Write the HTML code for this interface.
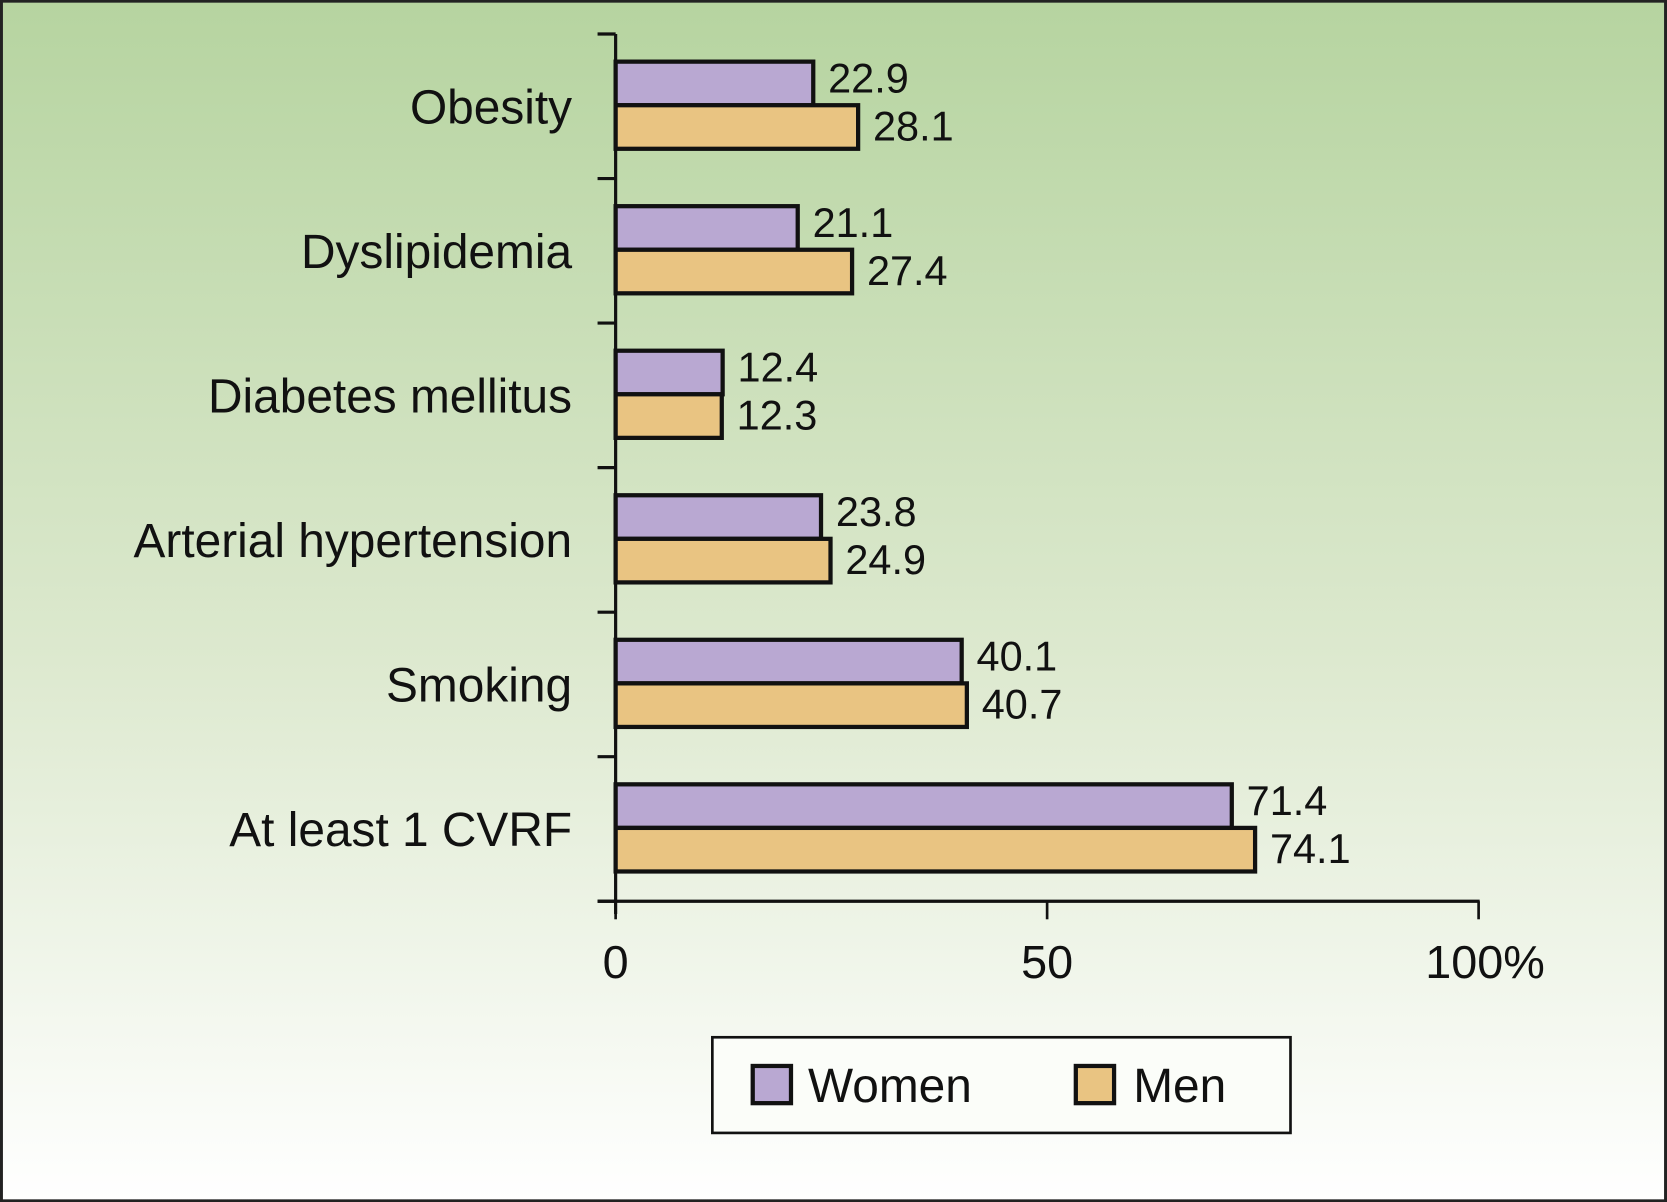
<!DOCTYPE html>
<html><head><meta charset="utf-8"><style>
html,body{margin:0;padding:0;background:#fff}
svg{display:block}
text{font-family:"Liberation Sans",Arial,sans-serif;fill:#111}
</style></head><body>
<svg id="chart" width="1667" height="1202" viewBox="0 0 1568 1131" xmlns="http://www.w3.org/2000/svg">
<defs><linearGradient id="bg" x1="0" y1="0" x2="0" y2="1">
<stop offset="0" stop-color="#b6d4a0"/><stop offset="0.55" stop-color="#dde9cf"/><stop offset="1" stop-color="#ffffff"/></linearGradient></defs>
<rect x="1" y="1" width="1566" height="1129" fill="url(#bg)" stroke="#222" stroke-width="3"/>
<g id="plot"></g>
<g>
<rect x="670" y="976" width="544" height="90" fill="#fbfdf9" stroke="#111" stroke-width="2.5"/>
<rect x="708" y="1003" width="36" height="35" fill="#b9a8d2" stroke="#111" stroke-width="4"/>
<text x="760" y="1037" font-size="45">Women</text>
<rect x="1012" y="1003" width="36" height="35" fill="#e9c482" stroke="#111" stroke-width="4"/>
<text x="1066" y="1037" font-size="45">Men</text>
</g>
</svg>
<script>
const categories = ["Obesity","Dyslipidemia","Diabetes mellitus","Arterial hypertension","Smoking","At least 1 CVRF"];
const women = [22.9,21.1,12.4,23.8,40.1,71.4];
const men = [28.1,27.4,12.3,24.9,40.7,74.1];
const xTicks = [0,50,100];
const xTickLabels = ["0","50","100%"];

const NS="http://www.w3.org/2000/svg";
const g=document.getElementById('plot');
const X0=579, PXU=8.12, YTOP=32, BAND=136, AXISY=848;
const x=v=>X0+v*PXU;
const yBand=i=>YTOP+i*BAND;
function el(t,a){const e=document.createElementNS(NS,t);for(const k in a)e.setAttribute(k,a[k]);g.appendChild(e);return e;}
let ya=el('line',{x1:X0,y1:YTOP,x2:X0,y2:AXISY+12,stroke:'#111','stroke-width':3});


let xa=el('line',{x1:X0-17,y1:AXISY,x2:x(100)+1,y2:AXISY,stroke:'#111','stroke-width':3});


for(let i=0;i<=categories.length;i++){
  const t=el('line',{x1:X0-17,y1:yBand(i),x2:X0,y2:yBand(i),stroke:'#111','stroke-width':3});
  
  
}
xTicks.forEach((v,i)=>{
  const t=el('line',{x1:x(v),y1:AXISY,x2:x(v),y2:AXISY+17,stroke:'#111','stroke-width':2.5});
  
  
  const l=el('text',{x:x(v)+(i==2?6:0),y:920,'font-size':44,'text-anchor':'middle'});
  l.textContent=xTickLabels[i];
  
  
});
categories.forEach((c,i)=>{
  const b=yBand(i);
  const l=el('text',{x:538,y:b+84,'font-size':45,'text-anchor':'end'});
  l.textContent=c;
  
  
  [[women[i],'#b9a8d2',26],[men[i],'#e9c482',67]].forEach(([v,col,off],k)=>{
    const r=el('rect',{x:X0,y:b+off,width:v*PXU,height:41,fill:col,stroke:'#111','stroke-width':4});
    
    
    const t=el('text',{x:x(v)+14,y:b+off+33+(k?0:-4),'font-size':39});
    t.textContent=v.toFixed(1);
    
    
  });
});
</script>
</body></html>
